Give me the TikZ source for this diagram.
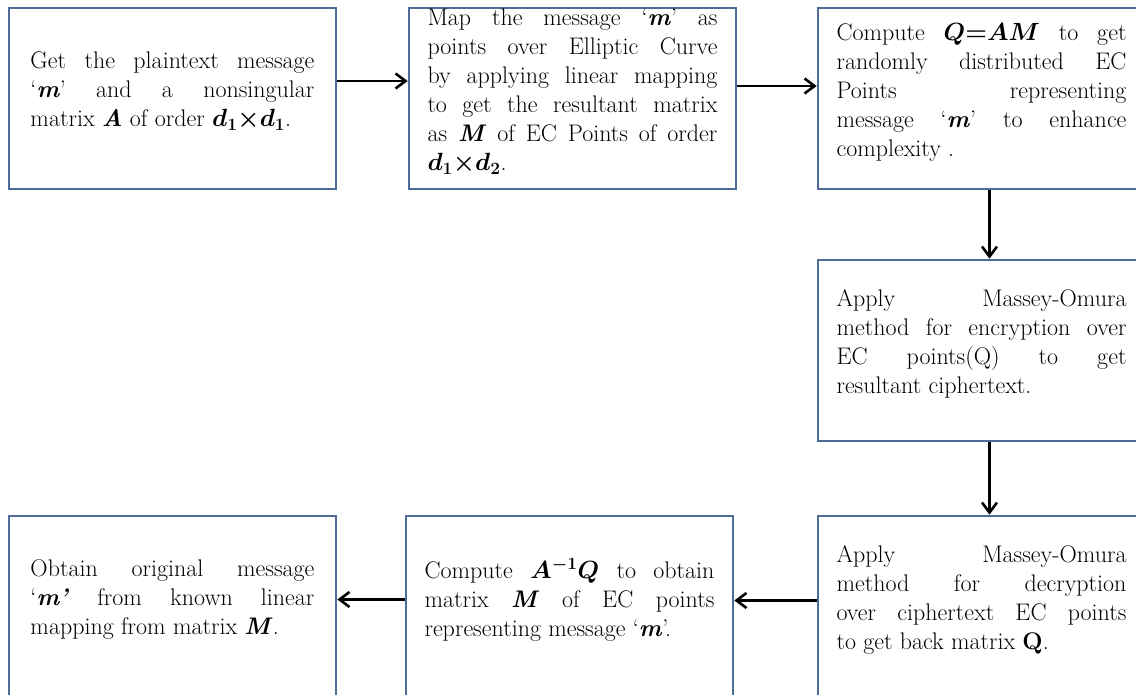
\documentclass[tikz,border=0pt]{standalone}
\usepackage{bm}
\usetikzlibrary{arrows.meta}
\definecolor{boxblue}{RGB}{79,108,152}
\newcommand{\bitext}[1]{\textbf{\textit{#1}}}
\newcommand{\lift}{\rule[-18pt]{0pt}{18pt}}
\setlength{\parindent}{0pt}
\tolerance=10000
\hyphenpenalty=10000
\begin{document}
\begin{tikzpicture}[
    x=1pt, y=-1pt,
    stepbox/.style={rectangle, draw=boxblue, line width=2.6pt, minimum width=327pt, minimum height=181pt, inner sep=0pt, text width=290pt, align=justify, font=\fontsize{24}{29}\selectfont},
    flow/.style={draw, line width=2.6pt, -{Straight Barb[length=10pt,width=15pt]}}
    ]
    \useasboundingbox (0,0) rectangle (1136,695);
    \clip (0,0) rectangle (1136,695);
    \fill[white] (0,0) rectangle (1136,695);

    % Top row
    \node[stepbox, text width=284pt] (b1) at (172.5, 98.5) {Get the plaintext message\linebreak `\bitext{m}' and a nonsingular\linebreak matrix \bitext{A} of order $\bm{d_1{\times}d_1}$.\lift};
    \node[stepbox] (b2) at (572.5, 98.5) {Map the message `\bitext{m}' as\linebreak points over Elliptic Curve\linebreak by applying linear mapping\linebreak to get the resultant matrix\linebreak as \bitext{M} of EC Points of order\linebreak $\bm{d_1{\times}d_2}$.\lift};
    \node[stepbox] (b3) at (981.5, 98.5) {Compute $\bm{Q{=}AM}$ to get\linebreak randomly distributed EC\linebreak Points representing\linebreak message `\bitext{m}' to enhance\linebreak complexity .\lift};

    % Right column
    \node[stepbox] (b4) at (981.5, 350.5) {Apply Massey-Omura\linebreak method for encryption over\linebreak EC points(Q) to get\linebreak resultant ciphertext.\lift};
    \node[stepbox] (b5) at (981.5, 606.5) {Apply Massey-Omura\linebreak method for decryption\linebreak over ciphertext EC points\linebreak to get back matrix \textbf{Q}.\lift};

    % Bottom row
    \node[stepbox] (b6) at (569.5, 606.5) {Compute $\bm{A^{-1}Q}$ to obtain\linebreak matrix \bitext{M} of EC points\linebreak representing message `\bitext{m}'.\lift};
    \node[stepbox, text width=284pt] (b7) at (172.5, 606.5) {Obtain original message\linebreak `\bitext{m'} from known linear\linebreak mapping from matrix \bitext{M}.\lift};

    % Arrows
    \draw[flow] ([yshift=17.5pt]b1.east) -- ([yshift=17.5pt]b2.west);
    \draw[flow] ([yshift=12.5pt]b2.east) -- ([yshift=12.5pt]b3.west);
    \draw[flow] ([xshift=8pt]b3.south) -- ([xshift=8pt]b4.north);
    \draw[flow] ([xshift=8pt]b4.south) -- ([xshift=8pt]b5.north);
    \draw[flow] ([yshift=6pt]b5.west) -- ([yshift=6pt]b6.east);
    \draw[flow] ([yshift=7pt]b6.west) -- ([yshift=7pt]b7.east);

\end{tikzpicture}
\end{document}
